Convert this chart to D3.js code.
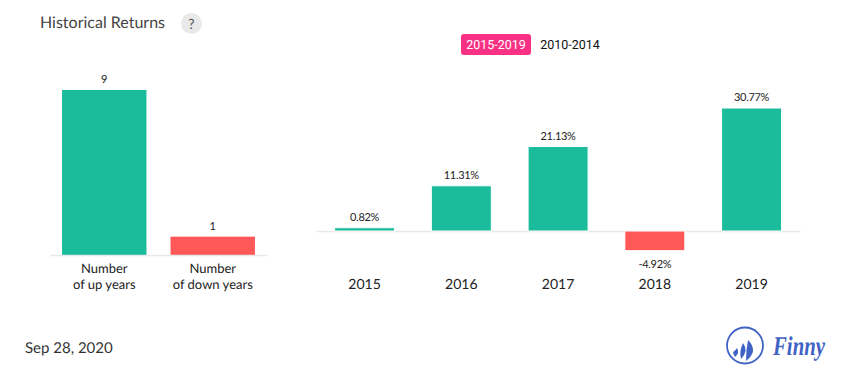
<!DOCTYPE html>
<html>
<head>
<meta charset="utf-8">
<script src="https://cdn.jsdelivr.net/npm/d3@7"></script>
<style>
html, body { margin: 0; padding: 0; background: #fff; }
svg { display: block; }
text { font-family: Lato, sans-serif; text-rendering: geometricPrecision; }
</style>
</head>
<body>
<svg id="chart"></svg>
<script>
// data

const countLabels = [['Number', 'of up years'], ['Number', 'of down years']];
const countValues = [9, 1];

const years = ['2015', '2016', '2017', '2018', '2019'];
const returns = [0.82, 11.31, 21.13, -4.92, 30.77];

const periods = ['2015-2019', '2010-2014'];

// size and colours

const width = 855;
const height = 382;
const green = '#1abc9c';
const red = '#ff5858';
const axisColor = '#e8e8e8';
const labelColor = '#222';

const svg = d3.select('#chart')
    .attr('width', width)
    .attr('height', height);

// title

svg.append('text')
    .attr('x', 40)
    .attr('y', 28)
    .style('font-size', '16px')
    .style('fill', '#444')
    .text('Historical Returns');

svg.append('circle')
    .attr('cx', 191.5)
    .attr('cy', 23.5)
    .attr('r', 10.5)
    .style('fill', '#e9e9e9');

svg.append('text')
    .attr('x', 191.5)
    .attr('y', 28.5)
    .style('text-anchor', 'middle')
    .style('font-size', '14px')
    .style('fill', '#555')
    .text('?');

// period switch

svg.append('rect')
    .attr('x', 461)
    .attr('y', 34)
    .attr('width', 70)
    .attr('height', 21)
    .attr('rx', 3)
    .style('fill', '#f93184');

svg.selectAll('.period')
    .data(periods)
    .enter()
    .append('text')
    .attr('class', 'period')
    .attr('x', (d, i) => i === 0 ? 496 : 570)
    .attr('y', 49)
    .style('text-anchor', 'middle')
    .style('font-family', 'Roboto, sans-serif')
    .style('font-size', '12.5px')
    .style('fill', (d, i) => i === 0 ? '#fff' : '#111')
    .text(d => d);

// left chart: up and down years

const countX = d3.scaleBand()
    .domain(d3.range(countValues.length))
    .range([50, 267])
    .paddingInner(0.222)
    .paddingOuter(0.111);

const countY = d3.scaleLinear()
    .domain([0, 9])
    .range([255, 90]);

const countPlot = svg.append('g');

countPlot.selectAll('rect')
    .data(countValues)
    .enter()
    .append('rect')
    .attr('x', (d, i) => countX(i))
    .attr('y', d => countY(d))
    .attr('width', countX.bandwidth())
    .attr('height', d => countY(0) - countY(d))
    .style('fill', (d, i) => i === 0 ? green : red);

countPlot.append('g')
    .attr('transform', `translate(0, ${countY(0)})`)
    .call(d3.axisBottom(countX).tickSize(0).tickFormat(''))
    .call(g => g.select('.domain').style('stroke', axisColor).style('stroke-width', 1.5));

countPlot.selectAll('.count-value')
    .data(countValues)
    .enter()
    .append('text')
    .attr('class', 'count-value')
    .attr('x', (d, i) => countX(i) + countX.bandwidth() / 2)
    .attr('y', d => countY(d) - 7)
    .style('text-anchor', 'middle')
    .style('font-size', '11px')
    .style('fill', labelColor)
    .text(d => d);

countLabels.forEach((lines, i) => {
    lines.forEach((line, j) => {
        countPlot.append('text')
            .attr('x', countX(i) + countX.bandwidth() / 2)
            .attr('y', 273 + j * 16)
            .style('text-anchor', 'middle')
            .style('font-size', '13px')
            .style('fill', labelColor)
            .text(line);
    });
});

// right chart: yearly returns

const returnX = d3.scaleBand()
    .domain(years)
    .range([316.2, 799.95])
    .paddingInner(0.38)
    .paddingOuter(0.19);

const returnY = d3.scaleLinear()
    .domain([0, 30.77])
    .range([231, 108]);

const returnPlot = svg.append('g');

returnPlot.append('g')
    .attr('transform', `translate(0, ${returnY(0)})`)
    .call(d3.axisBottom(returnX).tickSize(0).tickPadding(0).tickFormat(''))
    .call(g => g.select('.domain').style('stroke', axisColor).style('stroke-width', 1.5));

// the white outline breaks the axis line either side of each bar
returnPlot.selectAll('rect')
    .data(returns)
    .enter()
    .append('rect')
    .attr('x', (d, i) => returnX(years[i]))
    .attr('y', d => returnY(Math.max(d, 0)))
    .attr('width', returnX.bandwidth())
    .attr('height', d => Math.abs(returnY(d) - returnY(0)))
    .style('fill', d => d < 0 ? red : green)
    .style('stroke', '#fff')
    .style('stroke-width', 1);

returnPlot.selectAll('.return-value')
    .data(returns)
    .enter()
    .append('text')
    .attr('class', 'return-value')
    .attr('x', (d, i) => returnX(years[i]) + returnX.bandwidth() / 2)
    .attr('y', d => d < 0 ? returnY(d) + 17 : returnY(d) - 7)
    .style('text-anchor', 'middle')
    .style('font-size', '11px')
    .style('letter-spacing', '-0.3px')
    .style('fill', labelColor)
    .text(d => `${d}%`);

returnPlot.selectAll('.year')
    .data(years)
    .enter()
    .append('text')
    .attr('class', 'year')
    .attr('x', d => returnX(d) + returnX.bandwidth() / 2)
    .attr('y', 289)
    .style('text-anchor', 'middle')
    .style('font-size', '14px')
    .style('fill', labelColor)
    .text(d => d);

// date

svg.append('text')
    .attr('x', 25)
    .attr('y', 353)
    .style('font-size', '15px')
    .style('fill', '#333')
    .text('Sep 28, 2020');

// logo

const logoBlue = '#3f62c4';
const logo = svg.append('g');

logo.append('circle')
    .attr('cx', 745)
    .attr('cy', 345.5)
    .attr('r', 18)
    .style('fill', 'none')
    .style('stroke', logoBlue)
    .style('stroke-width', 1.8);

logo.append('path')
    .attr('d', 'M737 348 Q740 353 735 357 Q733 354 733 352 Q735 351 737 348Z')
    .style('fill', logoBlue);

logo.append('path')
    .attr('d', 'M743 343 Q749 351 741 359 Q739 351 743 343Z')
    .style('fill', logoBlue);

logo.append('path')
    .attr('d', 'M748 340 Q759 351 746 361 Q746 350 748 340Z')
    .style('fill', logoBlue);

logo.append('text')
    .attr('x', 773)
    .attr('y', 355)
    .attr('textLength', 52)
    .attr('lengthAdjust', 'spacingAndGlyphs')
    .style('font-family', '"Liberation Serif", serif')
    .style('font-style', 'italic')
    .style('font-weight', 'bold')
    .style('font-size', '27px')
    .style('fill', logoBlue)
    .text('Finny');
</script>
</body>
</html>
